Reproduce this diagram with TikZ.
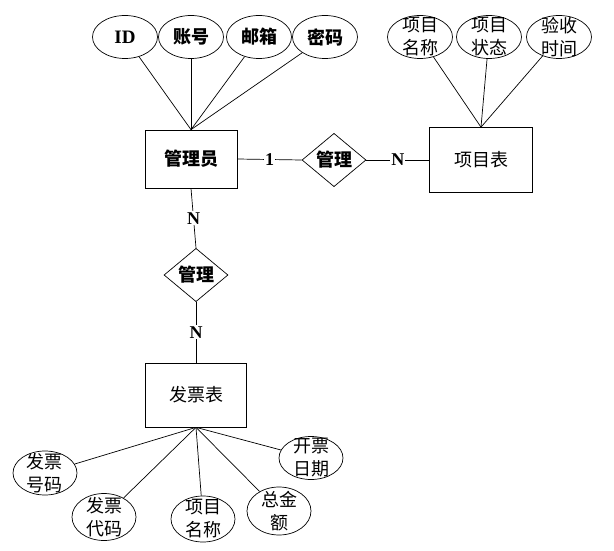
\documentclass[tikz,border=0pt]{standalone}
\usepackage{fontspec}
\setmainfont{Liberation Serif}
\newfontfamily\cjk{Noto Sans CJK SC}
\usetikzlibrary{shapes.geometric}
\begin{document}
\begin{tikzpicture}[x=1pt,y=-1pt,line width=.7pt]
    \tikzstyle{attr} = [draw,ellipse,minimum width=65pt,minimum height=43pt,inner sep=0pt]
    \tikzstyle{ent} = [draw,minimum width=92pt,minimum height=58pt,inner sep=0pt]
    \tikzstyle{rel} = [draw,diamond,minimum width=64pt,minimum height=46pt,inner sep=0pt]
    \tikzstyle{zh} = [font=\cjk\fontsize{18}{23}\selectfont]
    \tikzstyle{zhb} = [font=\cjk\bfseries\fontsize{18}{23}\selectfont]
    \tikzstyle{n} = [fill=white,inner sep=1pt,font=\bfseries\fontsize{18}{18}\selectfont]
    \useasboundingbox (0,0) rectangle (614,551);
    %%
    \node [ent,zhb] (gly) at (191,159) {管理员};
    \node [ent,zh,minimum width=103pt,minimum height=65pt] (xmb) at (481,160) {项目表};
    \node [ent,zh,minimum width=101pt,minimum height=64pt] (fpb) at (196,395) {发票表};
    \node [rel,zhb] (gl1) at (334,160) {管理};
    \node [rel,zhb,minimum height=45pt] (gl2) at (196,275) {管理};
    %%
    \node [attr,font=\bfseries\fontsize{19}{19}\selectfont] (id) at (125,37) {ID};
    \node [attr,zhb] (zh) at (191,37) {账号};
    \node [attr,zhb] (yx) at (259,37) {邮箱};
    \node [attr,zhb] (mm) at (325,37) {密码};
    \foreach \a in {id,zh,yx,mm} \draw (\a) -- (gly.north);
    %%
    \node [attr,label={[zh,align=center]center:项目\\名称}] (xmmc) at (420,37) {};
    \node [attr,label={[zh,align=center]center:项目\\状态}] (xmzt) at (489,37) {};
    \node [attr,label={[zh,align=center]center:验收\\时间}] (yssj) at (559,37) {};
    \foreach \a in {xmmc,xmzt,yssj} \draw (\a) -- (xmb.north);
    %%
    \node [attr,minimum width=64pt,minimum height=44pt,label={[zh,align=center]center:发票\\号码}] (fphm) at (45,473) {};
    \node [attr,minimum width=64pt,minimum height=47pt,label={[zh,align=center]center:发票\\代码}] (fpdm) at (104,517) {};
    \node [attr,minimum width=64pt,minimum height=46pt,label={[zh,align=center]center:项目\\名称}] (fpxm) at (203,519) {};
    \node [attr,minimum width=64pt,minimum height=48pt,label={[zh,align=center]center:总金\\额}] (zje) at (279,511) {};
    \node [attr,minimum width=64pt,minimum height=43pt,label={[zh,align=center]center:开票\\日期}] (kprq) at (311,458) {};
    \foreach \a in {fphm,fpdm,fpxm,zje,kprq} \draw (fpb.south) -- (\a);
    %%
    \draw (gly.east) -- node [n] {1} (gl1.west);
    \draw (gl1.east) -- node [n] {N} (xmb.west);
    \draw (gly.south) -- node [n] {N} (gl2.north);
    \draw (gl2.south) -- node [n] {N} (fpb.north);
\end{tikzpicture}
\end{document}
